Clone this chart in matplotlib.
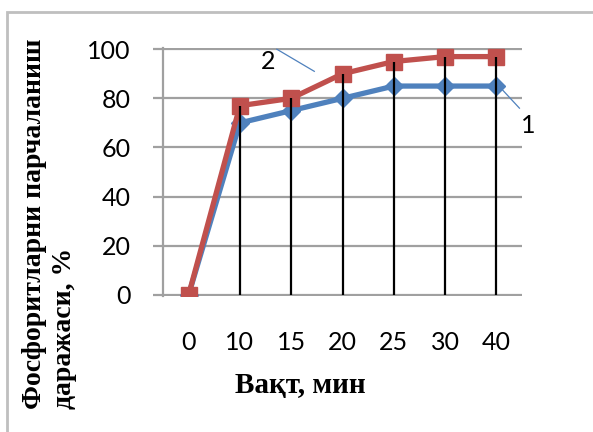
import matplotlib.pyplot as plt
from matplotlib.patches import Rectangle

# данные с графика
vaqt = ["0", "10", "15", "20", "25", "30", "40"]
seriya_1 = [0, 70, 75, 80, 85, 85, 85]
seriya_2 = [0, 77, 80, 90, 95, 97, 97]
y_ticks = [0, 20, 40, 60, 80, 100]

blue = "#4F81BD"
red = "#C0504D"
grey = "#A0A0A0"

fig = plt.figure(figsize=(5.93, 4.32), dpi=100)
ax = fig.add_axes([163 / 593, 1 - 296 / 432, (522 - 163) / 593, (296 - 48) / 432])

x = list(range(len(vaqt)))

# горизонтальная сетка
ax.hlines(y_ticks, -0.5, len(vaqt) - 0.5, colors=grey, linewidth=1.6, zorder=1)

# вертикальные линии (drop lines) до максимума
tops = [max(a, b) for a, b in zip(seriya_1, seriya_2)]
ax.vlines(x, 0, tops, color="black", linewidth=1.6, zorder=4)

ax.plot(x, seriya_1, color=blue, linewidth=3.8, marker="D", markersize=9.5, zorder=3)
ax.plot(x, seriya_2, color=red, linewidth=3.8, marker="s", markersize=12, zorder=3)

ax.set_xlim(-0.5, len(vaqt) - 0.5)
ax.set_ylim(-0.5, 100.5)
ax.set_yticks(y_ticks)
ax.set_xticks(x)
ax.set_xticklabels(vaqt)

for s in ["top", "right", "bottom"]:
    ax.spines[s].set_visible(False)
ax.spines["left"].set_color(grey)
ax.spines["left"].set_linewidth(1.6)

ax.tick_params(axis="y", length=7.2, width=1.6, color=grey, pad=16, labelsize=18)
ax.tick_params(axis="x", length=0, pad=25, labelsize=18)
for lab in ax.get_xticklabels() + ax.get_yticklabels():
    lab.set_fontfamily("Lato")

# подписи серий с выносками
ax.text(1.55, 95, "2", fontsize=18, family="Lato", ha="center", va="center")
ax.plot([1.72, 2.45], [100, 91], color=blue, linewidth=0.9, zorder=2)
ax.plot([6.05, 6.45], [85, 76], color=blue, linewidth=0.9, zorder=2, clip_on=False)
ax.text(6.63, 69, "1", fontsize=18, family="Lato", ha="center", va="center")

fig.text(300 / 593, 1 - 386 / 432, "Вақт, мин", fontsize=21, fontweight="bold",
         family="Liberation Serif", ha="center", va="center")
fig.text(0.084, 1 - 409 / 432, "Фосфоритларни парчаланиш\nдаражаси, %", fontsize=20,
         fontweight="bold", family="Liberation Serif", rotation=90, ha="center",
         va="bottom", multialignment="left", linespacing=1.25)

# рамка
fig.patches.append(Rectangle((7 / 593, -0.1), 1.2, 1 - 12 / 432 + 0.1, transform=fig.transFigure,
                             fill=False, edgecolor="#BFBFBF", linewidth=2))

fig.savefig("out.png", dpi=100)
